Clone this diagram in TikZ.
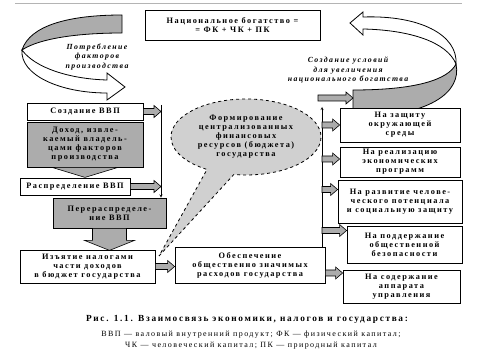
\documentclass[tikz,border=0pt]{standalone}
\usepackage{fontspec}
\setmainfont{Liberation Serif}[LetterSpace=18]
\usepackage{tikz}
\usetikzlibrary{arrows, shapes.geometric, shapes.callouts, calc}
\definecolor{shadegray}{RGB}{172, 172, 172}
\definecolor{noisegray}{RGB}{208, 208, 208}
\definecolor{rulegray}{RGB}{180, 180, 180}
\newcommand{\boxfont}{\fontsize{8.3}{9}\selectfont\bfseries}

\begin{document}
\begin{tikzpicture}[x=1pt, y=-1pt,
    plainbox/.style={rectangle, draw=black, fill=white, line width=0.8pt, align=center, font=\boxfont, inner sep=1pt},
    graybox/.style={plainbox, fill=shadegray},
    cloud/.style={ellipse callout, draw=black, dashed, fill=noisegray, line width=0.8pt, align=center, font=\boxfont, inner sep=0pt, callout pointer arc=22},
    ribbon/.style={draw=black, line width=0.8pt},
    ribbontext/.style={align=center, font=\fontsize{7.8}{9.5}\selectfont\bfseries\itshape},
    line/.style={thin, ->, >=stealth},
    blockarr/.style={draw=black, fill=shadegray, line width=0.6pt, to path={let \p1=(\tikztostart), \p2=(\tikztotarget) in
        (\x1,\y1+3pt) -- (\x2-7pt,\y1+3pt) -- (\x2-7pt,\y1+6pt) -- (\x2,\y1) -- (\x2-7pt,\y1-6pt) -- (\x2-7pt,\y1-3pt) -- (\x1,\y1-3pt) -- cycle}}
]
    \useasboundingbox (0,0) rectangle (487,352);
    \draw[rulegray, line width=1pt] (15,4) -- (462,4);

    % left ribbon: consumption of production factors
    \filldraw[ribbon, fill=shadegray] (122,15) .. controls (70,15) and (30,25) .. (22,50)
        .. controls (40,38) and (80,33) .. (122,33) -- cycle;
    \filldraw[ribbon, fill=white] (22,50) .. controls (20,75) and (60,93) .. (107,93)
        -- (107,100) -- (125,87) -- (107,73) -- (107,80)
        .. controls (70,79) and (35,68) .. (22,50) -- cycle;
    \node[ribbontext] (consume) at (97,57) {Потребление\\факторов\\производства};

    % right ribbon: conditions for growth of national wealth
    \filldraw[ribbon, fill=white] (350,23) -- (363,12) -- (363,17)
        .. controls (420,15) and (458,35) .. (456,64)
        .. controls (447,42) and (410,30) .. (363,29) -- (363,35) -- cycle;
    \filldraw[ribbon, fill=shadegray] (353,90) .. controls (415,90) and (448,80) .. (456,64)
        .. controls (462,92) and (430,117) .. (353,117) -- cycle;
    \node[ribbontext] (growth) at (348,70) {Создание условий\\для увеличения\\национального богатства};

    \node[plainbox, minimum width=175, minimum height=30] (wealth) at (232.5,25) {Национальное богатство =\\= ФК + ЧК + ПК};

    % left column
    \node[plainbox, minimum width=116, minimum height=17] (create) at (85,111.5) {Создание ВВП};
    \node[graybox, minimum width=116, minimum height=45] (income) at (85,144.5) {Доход, извле-\\каемый владель-\\цами факторов\\производства};
    \filldraw[draw=black, fill=shadegray, line width=0.6pt] ($(income.south)+(-33,0)$) -- ($(income.south)+(33,0)$) -- ($(income.south)+(0,10)$) -- cycle;
    \node[plainbox, minimum width=110, minimum height=17] (distrib) at (75,186.5) {Распределение ВВП};
    \node[graybox, minimum width=113, minimum height=30] (redist) at (109.5,213) {Перераспределе-\\ние ВВП};
    \filldraw[draw=black, fill=shadegray, line width=0.6pt] ($(redist.south)+(-17,0)$) -- ($(redist.south)+(-17,12)$) -- ($(redist.south)+(-25,12)$)
        -- ($(redist.south)+(0,22)$) -- ($(redist.south)+(25,12)$) -- ($(redist.south)+(17,12)$) -- ($(redist.south)+(17,0)$) -- cycle;
    \node[plainbox, minimum width=135, minimum height=33] (taxes) at (87.5,266.5) {Изъятие налогами\\части доходов\\в бюджет государства};
    \node[plainbox, minimum width=150, minimum height=36] (spend) at (250,265) {Обеспечение\\общественно значимых\\расходов государства};

    \coordinate (ltop) at (161,105);
    \draw[line] (ltop) -- (ltop |- redist.north);
    \path[blockarr] (create.east) to (ltop);
    \path[blockarr] (distrib.east) to (ltop);
    \path[blockarr] (taxes.east) to (spend.west);

    % budget cloud
    \coordinate (tip) at (159,256);
    \node[cloud, minimum width=150, minimum height=76, callout absolute pointer=(tip)] (budget) at (246,137)
        {Формирование\\централизованных\\финансовых\\ресурсов (бюджета)\\государства};

    % right column
    \node[plainbox, minimum width=120, minimum height=34] (env) at (400,125) {На защиту\\окружающей\\среды};
    \node[plainbox, minimum width=120, minimum height=30] (econ) at (400,162) {На реализацию\\экономических\\программ};
    \node[plainbox, minimum width=124, minimum height=43] (human) at (400,201.5) {На развитие челове-\\ческого потенциала\\и социальную защиту};
    \node[plainbox, minimum width=115, minimum height=37] (safety) at (404.5,244.5) {На поддержание\\общественной\\безопасности};
    \node[plainbox, minimum width=117, minimum height=33] (admin) at (401.5,286.5) {На содержание\\аппарата\\управления};

    \coordinate (rtop) at (322,107);
    \coordinate (rib) at (353,98);
    \draw[line] (spend.north -| rtop) -- (rtop);
    \path[blockarr] ($(rtop |- rib)+(-4,0)$) to (rib);
    \path[blockarr] (rtop |- env.west) to (env.west);
    \path[blockarr] ($(rtop |- econ.west)+(0,-3)$) to (econ.west);
    \path[blockarr] ($(rtop |- human.west)+(0,-12)$) to (human.west);
    \path[blockarr] ($(rtop |- safety.west)+(0,-14)$) to (safety.west);
    \path[blockarr] ($(spend.east)+(0,8)$) to (admin.west);

    % caption
    \node[font=\fontsize{9.3}{10}\selectfont\bfseries] (caption) at (247,319) {Рис. 1.1. Взаимосвязь экономики, налогов и государства:};
    \node[font=\fontsize{8}{11.5}\selectfont, align=center] (legend) at (251,340) {ВВП — валовый внутренний продукт; ФК — физический капитал;\\ЧК — человеческий капитал; ПК — природный капитал};
\end{tikzpicture}
\end{document}
